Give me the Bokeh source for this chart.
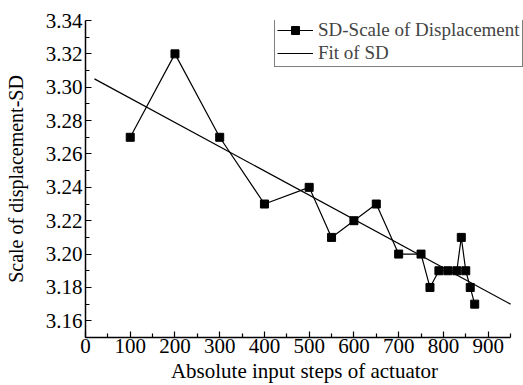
from bokeh.plotting import figure
from bokeh.models import Range1d, FixedTicker, Legend, LegendItem, PrintfTickFormatter
from bokeh.embed import file_html
from bokeh.resources import INLINE

# Data
steps = [100, 200, 300, 400, 500, 550, 600, 650, 700, 750, 770, 790, 810, 830, 840, 850, 860, 870]
sd = [3.27, 3.32, 3.27, 3.23, 3.24, 3.21, 3.22, 3.23, 3.20, 3.20, 3.18, 3.19, 3.19, 3.19, 3.21, 3.19, 3.18, 3.17]
fit_x = [20, 950]
fit_y = [3.305, 3.170]
x_ticks = [0, 100, 200, 300, 400, 500, 600, 700, 800, 900]
x_minor = [50, 150, 250, 350, 450, 550, 650, 750, 850, 950]
y_ticks = [3.16, 3.18, 3.20, 3.22, 3.24, 3.26, 3.28, 3.30, 3.32, 3.34]
y_minor = [3.15, 3.17, 3.19, 3.21, 3.23, 3.25, 3.27, 3.29, 3.31, 3.33]
x_axis_end = 950

FONT = "Liberation Serif"

# frame spans to the right canvas edge so the legend is not clipped;
# the x axis line itself stops at x_axis_end
p = figure(width=523, height=385, output_backend="svg", toolbar_location=None,
           x_range=Range1d(0, x_axis_end * 438 / 425), y_range=Range1d(3.15, 3.34),
           min_border_left=85, min_border_right=0, min_border_top=20, min_border_bottom=48)
p.outline_line_color = None
p.xgrid.visible = False
p.ygrid.visible = False

fit_r = p.line(fit_x, fit_y, line_color="black", line_width=1.2)
data_l = p.line(steps, sd, line_color="black", line_width=1.2)
data_m = p.scatter(steps, sd, marker="square", size=8, fill_color="black", line_color="black")

for ax in (p.xaxis[0], p.yaxis[0]):
    ax.axis_line_width = 1.5
    ax.axis_line_color = "black"
    ax.major_tick_in = 6
    ax.major_tick_out = 0
    ax.minor_tick_in = 4
    ax.minor_tick_out = 0
    ax.major_tick_line_width = 1.2
    ax.minor_tick_line_width = 1.2
    ax.major_label_text_font = FONT
    ax.major_label_text_font_size = "21px"
    ax.major_label_text_color = "black"
    ax.axis_label_text_font = FONT
    ax.axis_label_text_font_size = "21px"
    ax.axis_label_text_font_style = "normal"
    ax.axis_label_text_color = "black"

p.xaxis.bounds = (0, x_axis_end)
p.xaxis.ticker = FixedTicker(ticks=x_ticks, minor_ticks=x_minor)
p.yaxis.ticker = FixedTicker(ticks=y_ticks, minor_ticks=y_minor)
p.yaxis.formatter = PrintfTickFormatter(format="%.2f")
p.xaxis.axis_label = "Absolute input steps of actuator"
p.yaxis.axis_label = "Scale of displacement-SD"
p.yaxis.axis_label_text_font_size = "20px"
p.xaxis.major_label_standoff = 1
p.xaxis.axis_label_standoff = 3
p.yaxis.major_label_standoff = 3
p.yaxis.axis_label_standoff = 16

legend = Legend(items=[
    LegendItem(label="SD-Scale of Displacement", renderers=[data_l, data_m]),
    LegendItem(label="Fit of SD", renderers=[fit_r]),
], location=(189, 270))
legend.label_text_font = FONT
legend.label_text_font_size = "19px"
legend.label_height = 20
legend.glyph_height = 20
legend.glyph_width = 36
legend.spacing = 1
legend.padding = 2
legend.margin = 0
legend.label_standoff = 5
legend.border_line_color = "black"
legend.border_line_width = 1
legend.background_fill_alpha = 1
p.add_layout(legend, "center")

open("out.html", "w").write(file_html(p, INLINE))
